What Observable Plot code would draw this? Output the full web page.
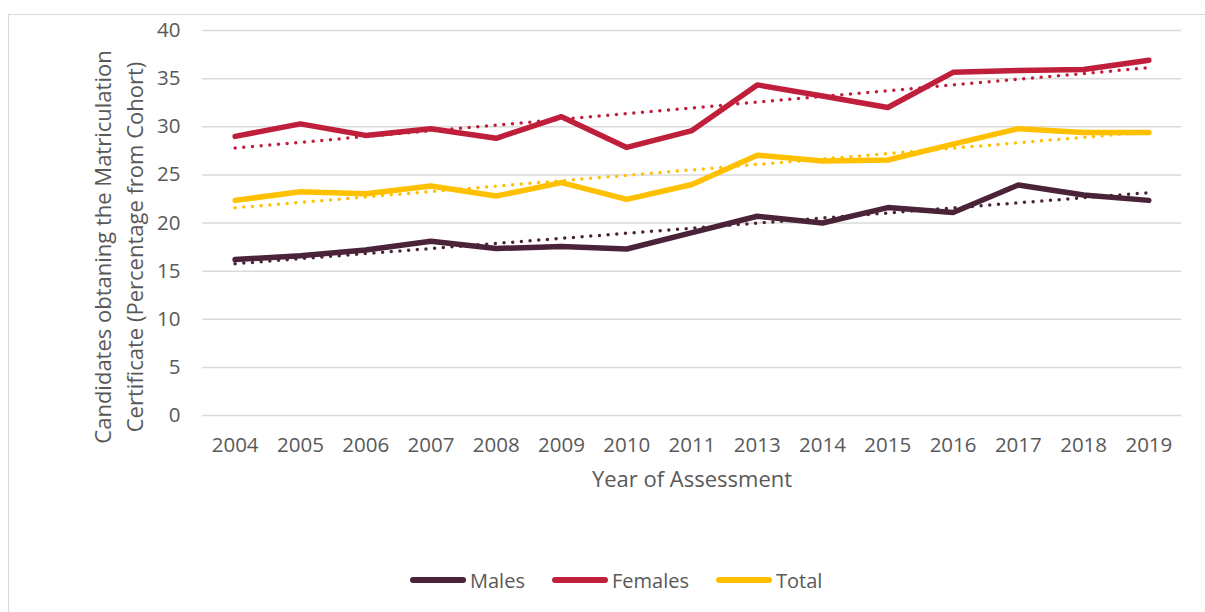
<!DOCTYPE html>
<html>
<head>
<meta charset="utf-8">
<script src="https://cdn.jsdelivr.net/npm/d3@7"></script>
<script src="https://cdn.jsdelivr.net/npm/@observablehq/plot@0.6"></script>
<style>
  html, body { margin: 0; padding: 0; background: #fff; overflow: hidden; }
  #wrap { position: relative; width: 1205px; height: 612px; overflow: hidden; font-family: "Open Sans", sans-serif; }
  #frame { position: absolute; left: 8px; top: 14px; width: 1400px; height: 800px; border-left: 1.5px solid #d9d9d9; border-top: 1.5px solid #d9d9d9; }
  #chart { position: absolute; left: 0; top: 0; }
  #legend { position: absolute; left: 0; top: 566px; width: 1205px; height: 28px; }
  .item { position: absolute; top: 0; display: flex; align-items: center; height: 28px; font-size: 20px; color: #595959; }
  .sw { width: 56px; height: 5.5px; border-radius: 3px; margin-right: 4px; }
</style>
</head>
<body>
<div id="wrap">
  <div id="frame"></div>
  <div id="chart"></div>
  <div id="legend"></div>
</div>
<script>
const years = ["2004","2005","2006","2007","2008","2009","2010","2011","2013","2014","2015","2016","2017","2018","2019"];
const males = [16.2, 16.6, 17.2, 18.1, 17.35, 17.55, 17.3, 19.0, 20.7, 20.0, 21.6, 21.1, 23.95, 22.9, 22.35];
const females = [29.0, 30.3, 29.1, 29.8, 28.8, 31.05, 27.85, 29.6, 34.35, 33.2, 32.0, 35.65, 35.85, 35.95, 36.9];
const total = [22.35, 23.25, 23.05, 23.85, 22.8, 24.2, 22.45, 24.0, 27.05, 26.45, 26.55, 28.2, 29.8, 29.4, 29.4];
const seriesNames = ["Males", "Females", "Total"];
const seriesColors = ["#4a2338", "#c01f3c", "#ffc000"];
const yTicks = [0, 5, 10, 15, 20, 25, 30, 35, 40];
const yTitle = "Candidates obtaning the Matriculation\nCertificate (Percentage from Cohort)";
const xTitle = "Year of Assessment";

const seriesValues = [males, females, total];
const data = [];
seriesNames.forEach((s, k) => seriesValues[k].forEach((v, i) => data.push({series: s, i, year: years[i], value: v})));

const chart = Plot.plot({
  width: 1205,
  height: 530,
  marginTop: 30,
  marginBottom: 115,
  marginLeft: 202,
  marginRight: 24,
  style: {fontFamily: "Open Sans, sans-serif", fontSize: "20.5px", color: "#595959", background: "transparent"},
  x: {type: "linear", domain: [-0.5, years.length - 0.5]},
  y: {domain: [0, 40]},
  color: {domain: seriesNames, range: seriesColors},
  marks: [
    Plot.gridY(yTicks, {stroke: "#d9d9d9", strokeOpacity: 1, strokeWidth: 1.5}),
    Plot.axisY({ticks: yTicks, tickSize: 0, tickPadding: 22, label: null}),
    Plot.axisX({ticks: d3.range(years.length), tickFormat: i => years[i], tickSize: 0, tickPadding: 22, label: null}),
    Plot.line(data, {x: "i", y: "value", z: "series", stroke: "series", strokeWidth: 5.5, strokeLinejoin: "round", strokeLinecap: "round"}),
    Plot.linearRegressionY(data, {x: "i", y: "value", z: "series", stroke: "series", ci: 0, strokeWidth: 3.5, strokeDasharray: "0,8.7", strokeLinecap: "round"}),
    Plot.text([yTitle], {frameAnchor: "left", textAnchor: "middle", lineAnchor: "middle", rotate: -90, dx: -86, dy: 24, fontSize: 22, fill: "#595959", lineHeight: 1.45}),
    Plot.text([xTitle], {frameAnchor: "bottom", textAnchor: "middle", dy: 71, fontSize: 22, fill: "#595959"})
  ]
});
document.getElementById("chart").appendChild(chart);

const legend = document.getElementById("legend");
const lefts = [410, 552, 716];
seriesNames.forEach((s, k) => {
  const it = document.createElement("div");
  it.className = "item";
  it.style.left = lefts[k] + "px";
  const sw = document.createElement("span");
  sw.className = "sw";
  sw.style.background = seriesColors[k];
  const lab = document.createElement("span");
  lab.textContent = s;
  it.appendChild(sw);
  it.appendChild(lab);
  legend.appendChild(it);
});
</script>
</body>
</html>
